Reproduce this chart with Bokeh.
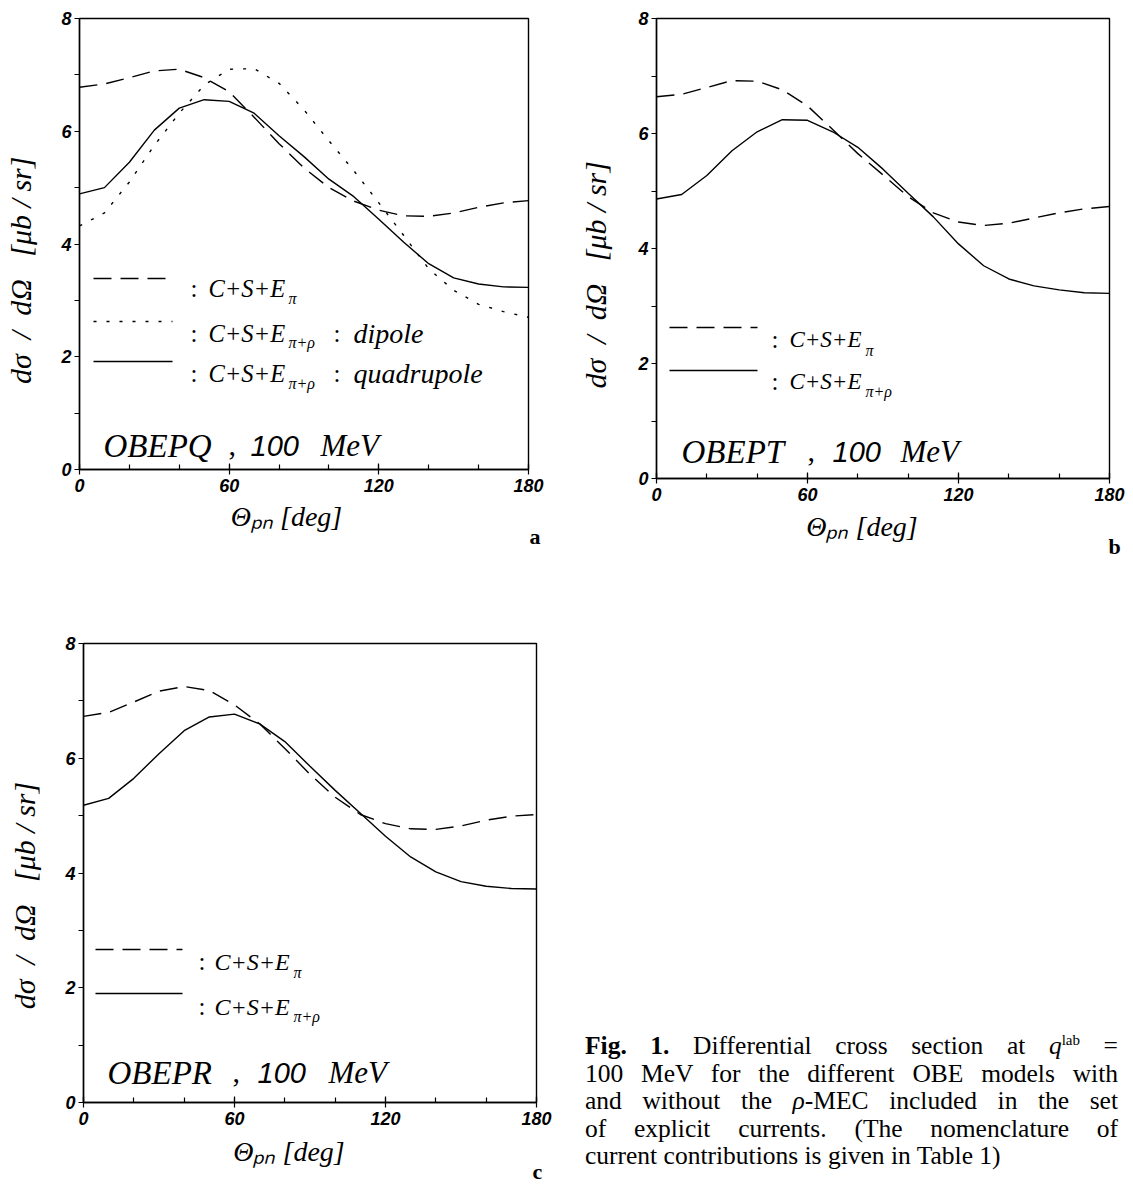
import numpy as np
from bokeh.plotting import figure
from bokeh.models import Label, FixedTicker, Range1d, Div, Title
from bokeh.layouts import column, row
from bokeh.embed import file_html
from bokeh.resources import INLINE

# ---------------- data ----------------
theta = [0, 10, 20, 30, 40, 50, 60, 70, 80, 90, 100, 110, 120, 130, 140, 150, 160, 170, 180]

a_dash  = [6.78, 6.84, 6.95, 7.07, 7.10, 6.95, 6.70, 6.25, 5.78, 5.35, 5.00, 4.76, 4.60, 4.50, 4.49, 4.55, 4.65, 4.73, 4.77]
a_dot   = [4.32, 4.55, 5.10, 5.75, 6.32, 6.82, 7.10, 7.11, 6.85, 6.38, 5.83, 5.30, 4.73, 4.15, 3.56, 3.18, 2.93, 2.80, 2.70]
a_solid = [4.89, 5.00, 5.45, 6.02, 6.41, 6.56, 6.53, 6.32, 5.92, 5.55, 5.15, 4.84, 4.44, 4.03, 3.65, 3.40, 3.29, 3.24, 3.23]

b_dash  = [6.64, 6.68, 6.80, 6.92, 6.91, 6.76, 6.48, 6.07, 5.65, 5.28, 4.90, 4.62, 4.46, 4.40, 4.44, 4.53, 4.62, 4.69, 4.73]
b_solid = [4.86, 4.94, 5.27, 5.70, 6.03, 6.24, 6.23, 6.03, 5.76, 5.38, 4.96, 4.55, 4.08, 3.70, 3.47, 3.35, 3.28, 3.23, 3.22]

c_dash  = [6.73, 6.80, 6.98, 7.17, 7.25, 7.18, 6.93, 6.60, 6.17, 5.72, 5.32, 5.02, 4.86, 4.77, 4.76, 4.82, 4.92, 4.99, 5.02]
c_solid = [5.18, 5.30, 5.65, 6.08, 6.48, 6.72, 6.77, 6.60, 6.29, 5.86, 5.44, 5.04, 4.64, 4.28, 4.02, 3.85, 3.77, 3.73, 3.72]

x_major = [0, 60, 120, 180]
x_minor = [0, 20, 40, 60, 80, 100, 120, 140, 160, 180]
y_major = [0, 2, 4, 6, 8]
y_minor = [1, 3, 5, 7]

NB = "\u00a0"
ylabel_text = ("dσ" + NB * 2 + "/" + NB * 2 + "dΩ" + NB * 3 + "[μb" + NB + "/"
               + NB + "sr]")
xlabel_text = "Θₚₙ [deg]"
model_names = ["OBEPQ", "OBEPT", "OBEPR"]
panel_letters = ["a", "b", "c"]

SERIF = "Liberation Serif"
SANS = "Liberation Sans"
DASH = "18 9"
DOT = "3 10"
LW = 1.4


def txt(p, text, dx, dy, size, font=SERIF, style="italic", align="left",
        baseline="alphabetic", angle=0.0):
    p.add_layout(Label(x=0, y=0, x_offset=dx, y_offset=dy, text=text,
                       text_font=font, text_font_size=f"{size}px",
                       text_font_style=style, text_align=align,
                       text_baseline=baseline, angle=angle,
                       text_color="black"))


def make_panel(fw, fh, bl, br, bt, bb):
    p = figure(frame_width=fw, frame_height=fh,
               x_range=Range1d(0, 180), y_range=Range1d(0, 8),
               output_backend="svg", toolbar_location=None,
               min_border_left=bl, min_border_right=br,
               min_border_top=bt, min_border_bottom=bb)
    p.grid.visible = False
    p.background_fill_color = "white"
    p.border_fill_color = "white"
    p.outline_line_color = "black"
    p.outline_line_width = 1.4
    p.outline_line_alpha = 1.0

    xa = p.xaxis[0]
    xa.ticker = FixedTicker(ticks=x_major, minor_ticks=x_minor)
    xa.major_tick_in = 6
    xa.major_tick_out = 5
    xa.minor_tick_in = 5
    xa.minor_tick_out = 0
    ya = p.yaxis[0]
    ya.ticker = FixedTicker(ticks=y_major, minor_ticks=y_minor)
    ya.major_tick_in = 0
    ya.major_tick_out = 5
    ya.minor_tick_in = 0
    ya.minor_tick_out = 5
    for ax in (xa, ya):
        ax.axis_line_color = "black"
        ax.axis_line_width = 1.4
        ax.major_tick_line_color = "black"
        ax.minor_tick_line_color = "black"
        ax.major_tick_line_width = 1.2
        ax.minor_tick_line_width = 1.2
        ax.major_label_text_font = SANS
        ax.major_label_text_font_style = "bold italic"
        ax.major_label_text_font_size = "18px"
        ax.major_label_text_color = "black"
        ax.axis_label_text_font = SERIF
        ax.axis_label_text_font_style = "italic"
        ax.axis_label_text_color = "black"
    xa.major_label_standoff = 4
    ya.major_label_standoff = 3
    xa.axis_label_text_font_size = "28px"
    ya.axis_label_text_font_size = "30px"
    return p


def px2data(fw, fh, dx, dy):
    return dx * 180.0 / fw, dy * 8.0 / fh


def decorate(p, fw, fh, name, letter, ypad, ystand, xpad, xstand, tag,
             legend, letter_off):
    # axis labels
    p.yaxis[0].axis_label = ylabel_text + NB * ypad
    p.yaxis[0].axis_label_standoff = ystand
    p.xaxis[0].axis_label = xlabel_text + NB * xpad
    p.xaxis[0].axis_label_standoff = xstand
    # panel letter
    p.add_layout(Title(text=letter, align="left", offset=letter_off[0],
                       standoff=letter_off[1], text_font=SERIF,
                       text_font_style="bold", text_font_size="22px",
                       text_color="black"), "below")
    # model tag
    tdx, tdy, tpos = tag
    txt(p, name, tdx, tdy, 33)
    txt(p, ",", tpos[0], tdy, 30, style="normal")
    txt(p, "100", tpos[1], tdy, 29, font=SANS)
    txt(p, "MeV", tpos[2], tdy, 31)
    # legend
    sx0, sx1, cdx, tdx2, sdx, fsize, rows = legend
    for (dash, line_dy, text_dy, sub_dy, sub, extra) in rows:
        x0, y0 = px2data(fw, fh, sx0, line_dy)
        x1, _ = px2data(fw, fh, sx1, line_dy)
        p.line([x0, x1], [y0, y0], line_color="black", line_width=LW,
               line_dash=dash)
        txt(p, ":", cdx, text_dy, 25, style="normal")
        txt(p, "C+S+E", tdx2, text_dy, fsize)
        txt(p, sub, sdx, sub_dy, 16)
        if extra:
            txt(p, ":", extra[0], text_dy, 25, style="normal")
            txt(p, extra[2], extra[1], text_dy, 28)


# ---------------- panel a ----------------
FWa, FHa = 449, 451
pa = make_panel(FWa, FHa, 79, 42, 14, 135)
pa.line(theta, a_dash, line_color="black", line_width=LW, line_dash=DASH)
pa.line(theta, a_dot, line_color="black", line_width=LW, line_dash=DOT)
pa.line(theta, a_solid, line_color="black", line_width=LW)
decorate(pa, FWa, FHa, model_names[0], panel_letters[0],
         ypad=7, ystand=21, xpad=5, xstand=6,
         tag=(24, 24, (149, 171, 241)),
         legend=(14, 93, 111, 129, 209, 24.5, [
             (DASH, 191, 181, 171, "π", None),
             (DOT, 148, 136, 127, "π+ρ", (254, 274, "dipole")),
             ("solid", 108, 96, 86, "π+ρ", (254, 274, "quadrupole")),
         ]),
         letter_off=(450, -28))

# ---------------- panel b ----------------
FWb, FHb = 453, 460
pb = make_panel(FWb, FHb, 86, 24, 18, 122)
pb.line(theta, b_dash, line_color="black", line_width=LW, line_dash=DASH)
pb.line(theta, b_solid, line_color="black", line_width=LW)
decorate(pb, FWb, FHb, model_names[1], panel_letters[1],
         ypad=7, ystand=23, xpad=6, xstand=7,
         tag=(25, 27, (151, 176, 244)),
         legend=(13, 101, 115, 133, 209, 23, [
             (DASH, 151, 139, 128, "π", None),
             ("solid", 108, 97, 87, "π+ρ", None),
         ]),
         letter_off=(452, -28))

# ---------------- panel c ----------------
FWc, FHc = 453, 459
pc = make_panel(FWc, FHc, 83, 34, 43, 83)
pc.line(theta, c_dash, line_color="black", line_width=LW, line_dash=DASH)
pc.line(theta, c_solid, line_color="black", line_width=LW)
decorate(pc, FWc, FHc, model_names[2], panel_letters[2],
         ypad=6, ystand=21, xpad=6, xstand=8,
         tag=(24, 30, (149, 174, 245)),
         legend=(12, 99, 115, 131, 210, 24, [
             (DASH, 153, 141, 130, "π", None),
             ("solid", 109, 96, 86, "π+ρ", None),
         ]),
         letter_off=(449, -28))

# ---------------- caption ----------------
line_style = ("display:block; text-align:justify; text-align-last:justify; "
              "white-space:nowrap; width:533px;")
caption_html = f"""
<div style="margin-left:15px; margin-top:432px; width:533px; font-family:'Liberation Serif';
 font-size:25.5px; line-height:27.5px; color:black;">
<span style="{line_style}"><b>Fig. 1.</b> Differential cross section at <i>q</i><sup style="font-size:15px; line-height:0; vertical-align:0.6em;">lab</sup> =</span>
<span style="{line_style}">100 MeV for the different OBE models with</span>
<span style="{line_style}">and without the <i>ρ</i>-MEC included in the set</span>
<span style="{line_style}">of explicit currents. (The nomenclature of</span>
<span style="display:block; white-space:nowrap;">current contributions is given in Table 1)</span>
</div>
"""
cap = Div(text=caption_html, width=563, height=585, margin=(0, 0, 0, 0))

layout = column(row(pa, pb), row(pc, cap))

open("out.html", "w").write(file_html(layout, INLINE, "Fig. 1"))
